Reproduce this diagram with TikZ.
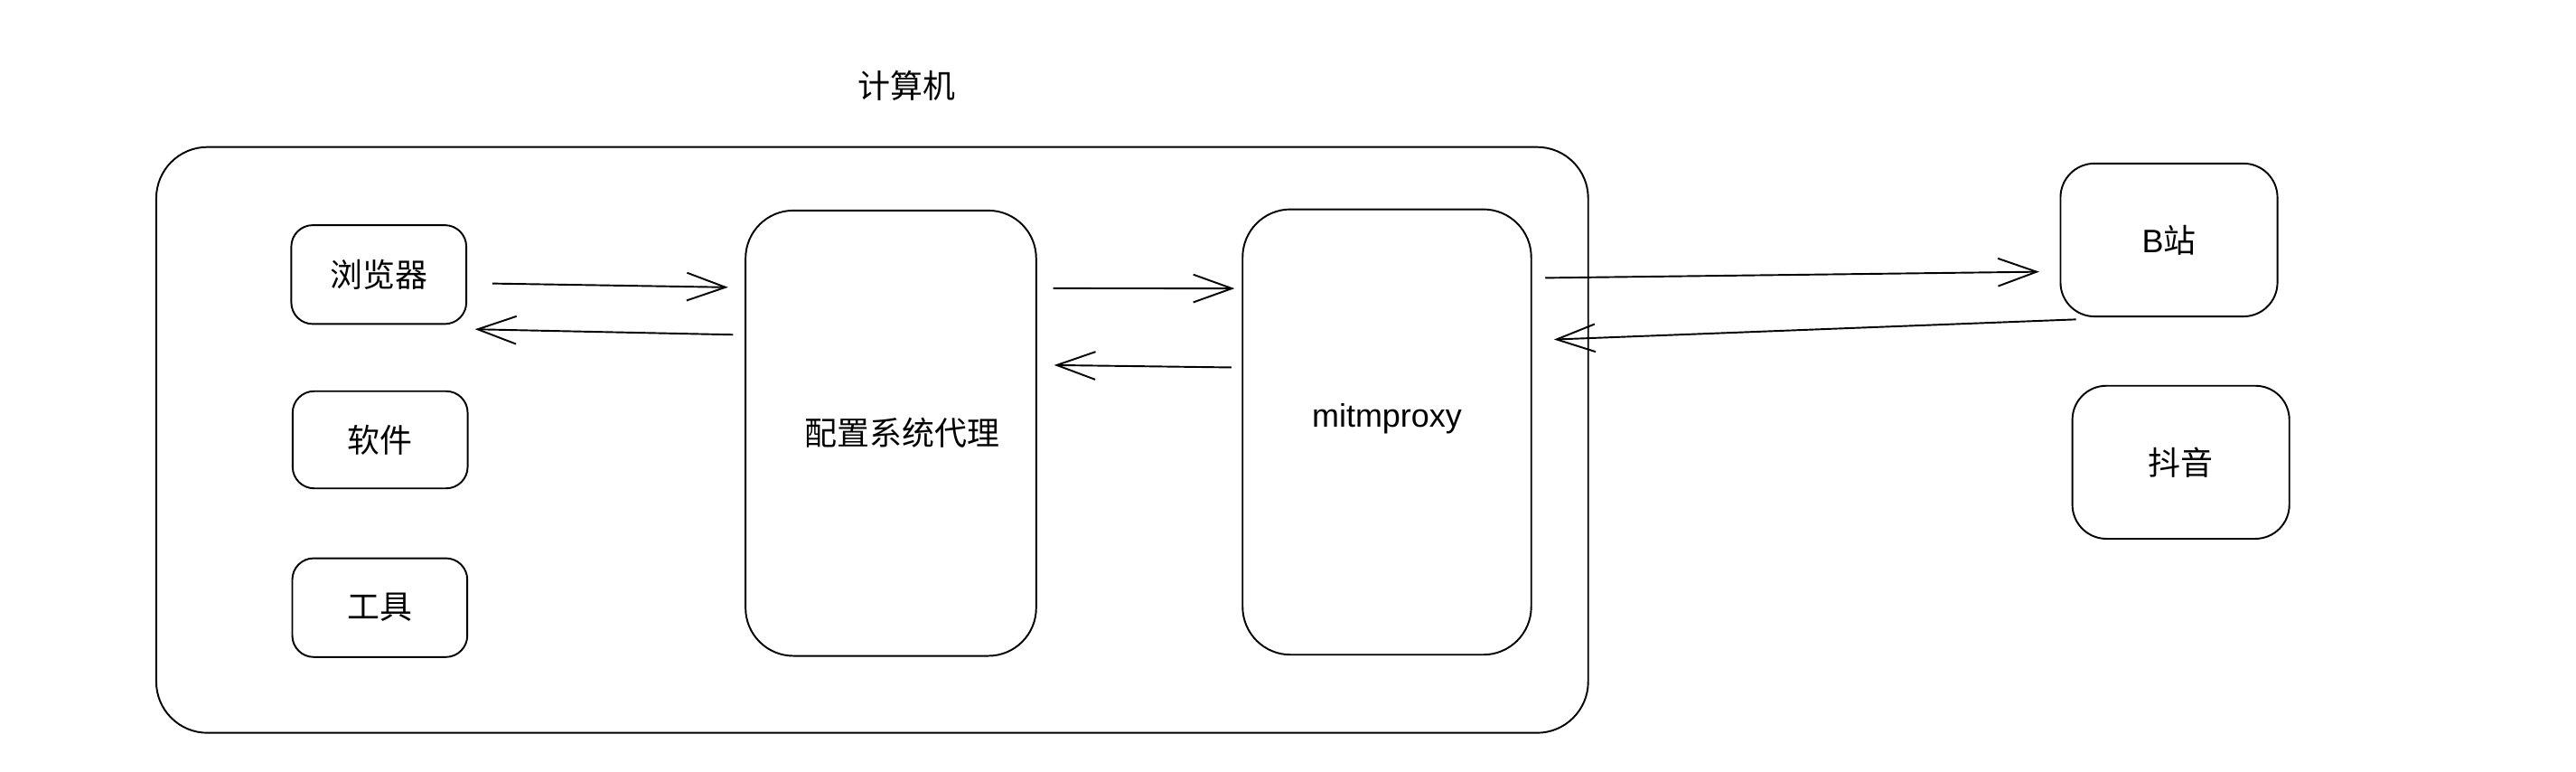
\documentclass[tikz,border=0pt]{standalone}
\usepackage{fontspec}
\setmainfont{Liberation Sans}
\newfontfamily\cjk{Noto Sans CJK SC}
\usetikzlibrary{shapes,arrows.meta}

\begin{document}
\begin{tikzpicture}[x=0.05cm,y=-0.05cm,line width=1.5pt,
    >={Straight Barb[length=1.17cm,width=0.84cm]},
    every node/.style={font=\fontsize{28}{34}\selectfont},
    appbox/.style={draw,rounded corners=0.65cm,minimum width=5.3cm,minimum height=2.99cm,inner sep=0pt,outer sep=0pt},
    bigbox/.style={draw,rounded corners=1.45cm,minimum width=8.8cm,minimum height=13.48cm,inner sep=0pt,outer sep=0pt},
    sitebox/.style={draw,rounded corners=1.03cm,minimum width=6.57cm,minimum height=4.63cm,inner sep=0pt,outer sep=0pt}]
\useasboundingbox (0,0) rectangle (1560,466.8);
\draw
    node at (549.3,51.7)[name=title]{\cjk 计算机}
    node at (528.2,266.3)[draw,rounded corners=1.55cm,minimum width=43.36cm,minimum height=17.73cm,outer sep=0pt,name=pc]{}

    node at (229.4,166.2)[appbox,name=browser]{\cjk 浏览器}
    node at (230.2,266.2)[appbox,minimum height=2.94cm,name=software]{\cjk 软件}
    node at (230,367.8)[appbox,name=tools]{\cjk 工具}

    node at (539.5,262.2)[bigbox,name=sysproxy]{\hspace*{0.69cm}\cjk 配置系统代理}
    node at (839.9,261.5)[bigbox,minimum width=8.74cm,name=mitm]{\raisebox{0.4cm}[\height][\depth]{mitmproxy}}

    node at (1313.5,145.25)[sitebox,name=bili]{B{\cjk 站}}
    node at (1320.7,279.8)[sitebox,name=douyin]{\cjk 抖音}
;

    \draw[->]([shift={(15.7,5.4)}]browser.east) -- ([shift={(-10.6,46.5)}]sysproxy.north west);
    \draw[->]([shift={(-7.5,75.2)}]sysproxy.north west) -- ([shift={(5.3,3.2)}]browser.south east);
    \draw[->]([shift={(10.3,47.1)}]sysproxy.north east) -- ([shift={(-4.9,47.9)}]mitm.north west);
    \draw[->]([shift={(-6.8,95.7)}]mitm.north west) -- ([shift={(10.9,93.6)}]sysproxy.north east);
    \draw[->]([shift={(8.5,41.5)}]mitm.north east) -- ([shift={(-12.9,19.25)}]bili.west);
    \draw[->]([shift={(9.4,1.8)}]bili.south west) -- ([shift={(13.8,78.8)}]mitm.north east);
\end{tikzpicture}
\end{document}
